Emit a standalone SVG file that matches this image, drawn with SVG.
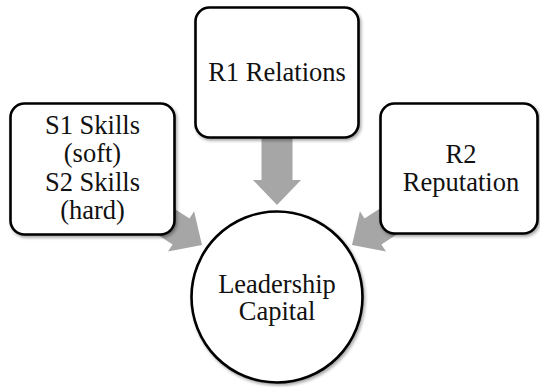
<svg xmlns="http://www.w3.org/2000/svg" width="540" height="387" viewBox="0 0 540 387">
<defs>
<style>
.box{fill:#fff;stroke:#000;stroke-width:2.6}
.arrow{fill:#a6a6a6}
.t{font-family:'Liberation Serif','Tinos','DejaVu Serif',serif;font-size:26.5px;fill:#111;text-anchor:middle}
</style>
<filter id="sh" x="-10%" y="-10%" width="130%" height="130%">
<feDropShadow dx="1.5" dy="2" stdDeviation="1.5" flood-color="#000" flood-opacity="0.35"/>
</filter>
<polygon id="arr" points="0,0 -25,-24 -25,-15.5 -70,-15.5 -70,15.5 -25,15.5 -25,24"/>
</defs>
<rect width="540" height="387" fill="#fff"/>
<g id="connectors" class="arrow">
<use href="#arr" transform="translate(277,205) rotate(90)"/>
<use href="#arr" transform="translate(202,245) rotate(33)"/>
<use href="#arr" transform="translate(352,245) rotate(147)"/>
</g>
<g id="skills">
<rect class="box" filter="url(#sh)" x="10.5" y="103.5" width="164" height="131" rx="14"/>
<text class="t" font-family="Liberation Serif, serif" x="92.5" y="134">S1 Skills</text>
<text class="t" font-family="Liberation Serif, serif" x="92.5" y="162">(soft)</text>
<text class="t" font-family="Liberation Serif, serif" x="92.5" y="190.5">S2 Skills</text>
<text class="t" font-family="Liberation Serif, serif" x="92.5" y="218.5">(hard)</text>
</g>
<g id="relations">
<rect class="box" filter="url(#sh)" x="195.5" y="7.5" width="163" height="130" rx="14"/>
<text class="t" font-family="Liberation Serif, serif" x="277" y="81">R1 Relations</text>
</g>
<g id="reputation">
<rect class="box" filter="url(#sh)" x="380.5" y="103.5" width="157" height="130" rx="14"/>
<text class="t" font-family="Liberation Serif, serif" x="461" y="163">R2</text>
<text class="t" font-family="Liberation Serif, serif" x="461" y="190.5">Reputation</text>
</g>
<g id="leadership">
<circle class="box" filter="url(#sh)" cx="277" cy="297" r="85.5"/>
<text class="t" font-family="Liberation Serif, serif" x="277" y="293">Leadership</text>
<text class="t" font-family="Liberation Serif, serif" x="277" y="320">Capital</text>
</g>
</svg>
